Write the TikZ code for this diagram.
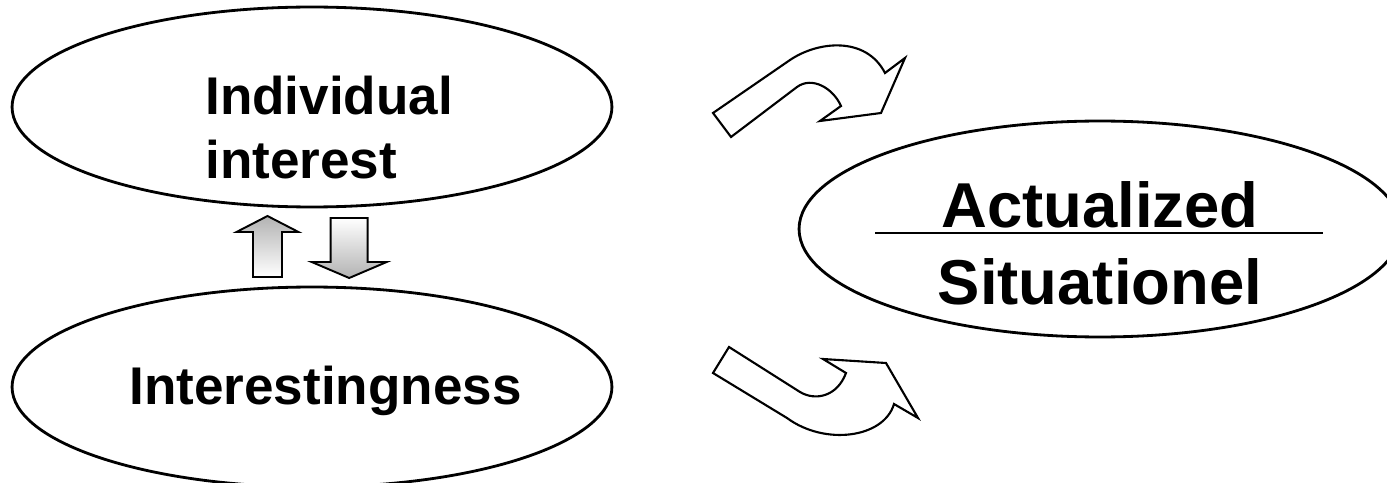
\documentclass[tikz,border=0pt]{standalone}
\usepackage{fontspec}
\setmainfont{Liberation Sans}
\usetikzlibrary{calc, shapes.geometric}

\begin{document}
\begin{tikzpicture}[
    x=0.02cm, y=-0.02cm,
    oval/.style={ellipse, draw, line width=1.6pt, minimum width=12cm, minimum height=4cm, inner sep=0pt},
    lbl/.style={font=\fontsize{30.2}{35.9}\selectfont\bfseries, align=left, inner sep=0pt},
    biglbl/.style={font=\fontsize{36.1}{43.3}\selectfont\bfseries, align=center, inner sep=0pt},
    blockarr/.style={draw, line width=1.1pt, line join=miter},
    bentarr/.style={draw, fill=white, line width=1.2pt, line join=miter},
]
\useasboundingbox (0,0) rectangle (1387,483);
\clip (0,0) rectangle (1387,483);

\node[oval] (indiv) at (312,107) {};
\node[oval] (intst) at (312,387) {};
\node[oval, minimum width=12.04cm, minimum height=4.32cm] (actual) at (1100,229) {};

\node[lbl, anchor=base west] (indivtxt) at (205,178) {Individual\\interest};
\node[lbl, anchor=base west] (intsttxt) at (129,404) {Interestingness};
\node[biglbl, anchor=base] (actualtxt) at (1100,304) {Actualized\\Situationel};
\draw[line width=1.7pt] ($(actualtxt.base)+(-225,-71)$) -- ($(actualtxt.base)+(223,-71)$);

\draw[blockarr, top color=gray!60, bottom color=white] (253,277) -- (253,232) -- (236.5,232) -- (267.5,216) -- (298.5,232) -- (282,232) -- (282,277) -- cycle;
\draw[blockarr, top color=white, bottom color=gray!60] (330.7,218) -- (367.7,218) -- (367.7,262) -- (386.7,262) -- (349.2,278) -- (311.7,262) -- (330.7,262) -- cycle;

\draw[bentarr] (713,113) -- (790,60) .. controls (818,41) and (866,36) .. (885,73) -- (905,58) -- (881,113) -- (820,121) -- (841,106) .. controls (833,88) and (812,76) .. (797,87) -- (731,137) -- cycle;
\draw[bentarr] (729,347) -- (800,392) .. controls (815,401) and (837,397) .. (846,373) -- (823,359) -- (886,363) -- (918,418) -- (894,404) .. controls (884,438) and (825,446) .. (787,418) -- (713,373) -- cycle;
\end{tikzpicture}
\end{document}
